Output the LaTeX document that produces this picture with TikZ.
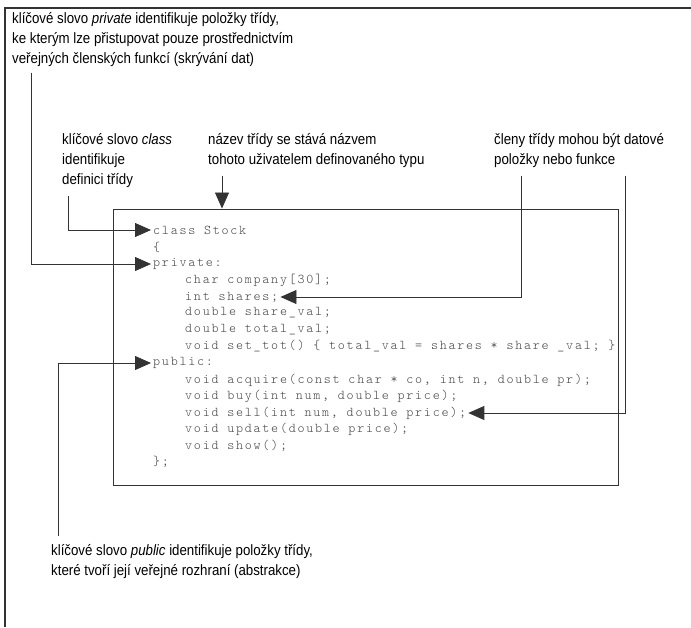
\documentclass[tikz,border=0pt]{standalone}
\usepackage{fontspec}
\setmainfont{Liberation Sans}[FakeStretch=0.885]
\newfontfamily\codefont{lmmonolt10-regular.otf}[LetterSpace=13]
\usetikzlibrary{arrows.meta,positioning}

\definecolor{inkgray}{HTML}{333333}
\definecolor{codegray}{HTML}{444444}

\tikzset{
  note/.style={anchor=north west,align=left,inner sep=0pt,
    font=\fontsize{15}{20}\selectfont,text=black},
  code/.style={anchor=west,inner sep=2pt,
    font=\codefont\fontsize{13.4}{16}\selectfont,text=codegray},
  ptr/.style={draw=inkgray,line width=0.8pt,-{Triangle[length=16pt,width=14pt]}}
}

\begin{document}
\begin{tikzpicture}[x=1pt,y=-1pt]
\useasboundingbox (0,0) rectangle (691,627);

% Frame of the page
\draw[inkgray,line width=1.6pt] (691,8) -- (5,8) -- (5,627);

% Box round the class declaration
\node[draw=inkgray,line width=0.9pt,minimum width=505pt,minimum height=276pt,
  inner sep=0pt] (box) at (365.5,347) {};

% Declaration, one node per line
\def\lvlA{151}
\def\lvlB{183}
\node[code] (cls)     at (\lvlA,230) {class Stock};
\node[code] (lbrace)  at (\lvlA,247) {\{};
\node[code] (priv)    at (\lvlA,264) {private:};
\node[code] (company) at (\lvlB,280) {char company[30];};
\node[code] (shares)  at (\lvlB,297) {int shares;};
\node[code] (shval)   at (\lvlB,313) {double share\_val;};
\node[code] (totval)  at (\lvlB,330) {double total\_val;};
\node[code] (settot)  at (\lvlB,346) {void set\_tot() \{ total\_val = shares * share \_val; \}};
\node[code] (pub)     at (\lvlA,363) {public:};
\node[code] (acquire) at (\lvlB,380) {void acquire(const char * co, int n, double pr);};
\node[code] (buy)     at (\lvlB,396) {void buy(int num, double price);};
\node[code] (sell)    at (\lvlB,413) {void sell(int num, double price);};
\node[code] (update)  at (\lvlB,429) {void update(double price);};
\node[code] (show)    at (\lvlB,446) {void show();};
\node[code] (rbrace)  at (\lvlA,462) {\};};

% Notes
\node[note] (privnote) at (12,12) {klíčové slovo \textit{private} identifikuje položky třídy,\\
  ke kterým lze přistupovat pouze prostřednictvím\\
  veřejných členských funkcí (skrývání dat)};
\node[note] (clsnote) at (62,133) {klíčové slovo \textit{class}\\identifikuje\\definici třídy};
\node[note] (namenote) at (208,133) {název třídy se stává názvem\\
  tohoto uživatelem definovaného typu};
\node[note] (memnote) at (494,133) {členy třídy mohou být datové\\položky nebo funkce};
\node[note] (pubnote) at (51,544) {klíčové slovo \textit{public} identifikuje položky třídy,\\
  které tvoří její veřejné rozhraní (abstrakce)};

% Pointers
\coordinate (privfoot) at ([xshift=19pt,yshift=-6pt]privnote.south west);
\draw[ptr] (privfoot) |- (priv.west);
\coordinate (clsfoot) at ([xshift=6pt,yshift=-8pt]clsnote.south west);
\draw[ptr] (clsfoot) |- (cls.west);
\coordinate (namefoot) at ([xshift=14pt,yshift=-8pt]namenote.south west);
\draw[ptr] (namefoot) -- (namefoot |- box.north);
\coordinate (datafoot) at ([xshift=27pt,yshift=-8pt]memnote.south west);
\draw[ptr] (datafoot) |- (shares.east);
\coordinate (funcfoot) at ([xshift=131pt,yshift=-8pt]memnote.south west);
\draw[ptr] (funcfoot) |- (sell.east);
\coordinate (pubfoot) at ([xshift=7pt,yshift=8pt]pubnote.north west);
\draw[ptr] (pubfoot) |- (pub.west);

\end{tikzpicture}
\end{document}
